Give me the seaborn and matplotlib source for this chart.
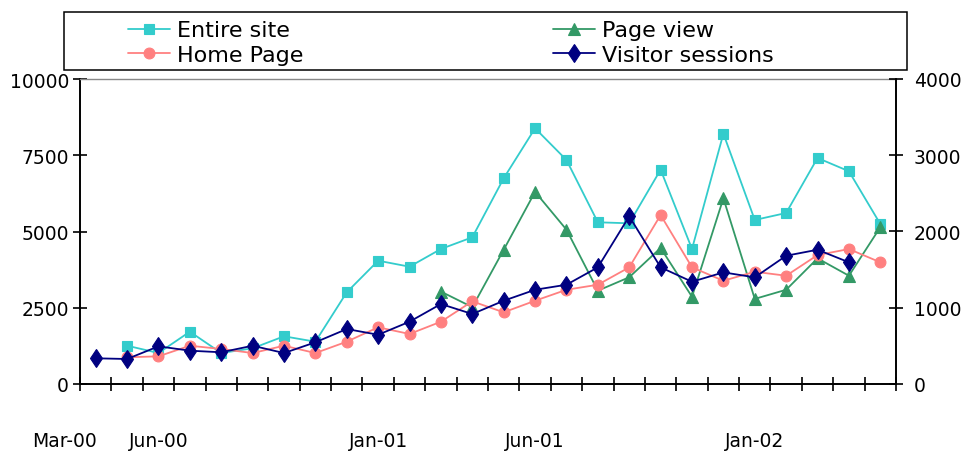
import numpy as np
import pandas as pd
import matplotlib
matplotlib.use("Agg")
import matplotlib.pyplot as plt
import matplotlib.transforms as mtransforms
from matplotlib.patches import Rectangle
import seaborn as sns

nan = np.nan
months = ["Mar-00", "Apr-00", "May-00", "Jun-00", "Jul-00", "Aug-00", "Sep-00", "Oct-00",
          "Nov-00", "Dec-00", "Jan-01", "Feb-01", "Mar-01", "Apr-01", "May-01", "Jun-01",
          "Jul-01", "Aug-01", "Sep-01", "Oct-01", "Nov-01", "Dec-01", "Jan-02", "Feb-02",
          "Mar-02", "Apr-02"]
shown_labels = ["Mar-00", "Jun-00", "Jan-01", "Jun-01", "Jan-02"]

# left axis (0-10000)
entire_site = [nan, 1256, 1016, 1715, 1016, 1171, 1564, 1387, 3007, 4043, 3846, 4427, 4810,
               6745, 8384, 7345, 5302, 5269, 7027, 4427, 8207, 5378, 5607, 7411, 6975, 5246]
page_view = [nan, nan, nan, nan, nan, nan, nan, nan, nan, nan, nan, 3030, 2520, 4400, 6300,
             5060, 3060, 3500, 4460, 2860, 6090, 2790, 3090, 4120, 3550, 5140]
# right axis (0-4000)
home_page = [nan, 350, 363, 502, 459, 406, 502, 406, 555, 744, 656, 817, 1084, 940, 1092,
             1236, 1302, 1530, 2216, 1530, 1354, 1472, 1420, 1691, 1770, 1596]
visitor_sessions = [337, 328, 494, 437, 416, 502, 406, 547, 721, 646, 817, 1049, 918, 1092,
                    1236, 1302, 1530, 2199, 1530, 1341, 1464, 1399, 1682, 1761, 1596, nan]

left_ticks = [0, 2500, 5000, 7500, 10000]
right_ticks = [0, 1000, 2000, 3000, 4000]

sns.set_style("white")
plt.rcParams["font.family"] = ["DejaVu Sans"]
plt.rcParams["text.color"] = "black"

W, H = 966, 452
fig = plt.figure(figsize=(W / 100, H / 100), dpi=100)
ax = fig.add_axes([80 / W, (H - 385) / H, 816 / W, 305 / H])
ax2 = ax.twinx()

idx = np.arange(len(months))
df = pd.DataFrame({"i": idx, "Entire site": entire_site, "Page view": page_view,
                   "Home Page": home_page, "Visitor sessions": visitor_sessions})

styles = {
    "Entire site": dict(color="#33CCCC", marker="s", markersize=7.2, ax=ax, z=2),
    "Page view": dict(color="#339966", marker="^", markersize=8.5, ax=ax, z=3),
    "Home Page": dict(color="#FF8080", marker="o", markersize=7.8, ax=ax2, z=2),
    "Visitor sessions": dict(color="#000080", marker="d", markersize=9.5, ax=ax2, z=3),
}
handles = {}
for name, st in styles.items():
    sub = df[["i", name]].dropna()
    sns.lineplot(data=sub, x="i", y=name, ax=st["ax"], color=st["color"], marker=st["marker"],
                 markersize=st["markersize"], markeredgecolor=st["color"], markeredgewidth=0.8,
                 linewidth=1.3, legend=False, zorder=st["z"])
    handles[name] = st["ax"].lines[-1]

for a in (ax, ax2):
    a.set_xlabel("")
    a.set_ylabel("")
    a.set_facecolor("none")
ax.set_xlim(-0.5, len(months) - 0.5)
ax.set_ylim(0, 10000)
ax2.set_ylim(0, 4000)
ax.set_yticks(left_ticks)
ax.set_yticklabels([str(t) for t in left_ticks])
ax2.set_yticks(right_ticks)
ax2.set_yticklabels([str(t) for t in right_ticks])
ax.set_xticks(np.arange(-0.5, len(months), 1.0))
ax.set_xticklabels([])

ax.tick_params(axis="both", direction="inout", length=10, width=1.2, color="black",
               labelsize=13.5, labelcolor="black", pad=3)
ax.tick_params(axis="y", left=True, right=False)
ax.tick_params(axis="x", bottom=True, top=False, labelbottom=False)
ax2.tick_params(axis="x", bottom=False, top=False, labelbottom=False, labeltop=False)
ax2.tick_params(axis="y", direction="inout", length=10, width=1.2, color="black",
                labelsize=13.5, labelcolor="black", pad=8, right=True, left=False)

for s in ("left", "bottom"):
    ax.spines[s].set_color("black")
    ax.spines[s].set_linewidth(1.4)
ax.spines["right"].set_visible(False)
ax.spines["top"].set_color("#888888")
ax.spines["top"].set_linewidth(1.0)
for s in ("left", "bottom", "top"):
    ax2.spines[s].set_visible(False)
ax2.spines["right"].set_color("black")
ax2.spines["right"].set_linewidth(1.4)

# month labels under the axis
trans = mtransforms.blended_transform_factory(ax.transData, ax.transAxes)
for lab in shown_labels:
    ax.text(months.index(lab) - 1, -0.186, lab, transform=trans, ha="center", va="center",
            fontsize=13.5, color="black", clip_on=False)

# legend box
fig.patches.append(Rectangle((64 / W, 1 - 71 / H), (907 - 64) / W, (71 - 12.7) / H,
                             transform=fig.transFigure, fill=False, edgecolor="black",
                             linewidth=1.1))
common = dict(frameon=False, fontsize=16, handlelength=1.9, handletextpad=0.3,
              labelspacing=0.2, borderpad=0, borderaxespad=0, loc="center left",
              labelcolor="black")
fig.legend([handles["Entire site"], handles["Home Page"]], ["Entire site", "Home Page"],
           bbox_to_anchor=(128 / W, 1 - 43.5 / H), **common)
fig.legend([handles["Page view"], handles["Visitor sessions"]], ["Page view", "Visitor sessions"],
           bbox_to_anchor=(553 / W, 1 - 43.5 / H), **common)

fig.savefig("out.png", dpi=100)
